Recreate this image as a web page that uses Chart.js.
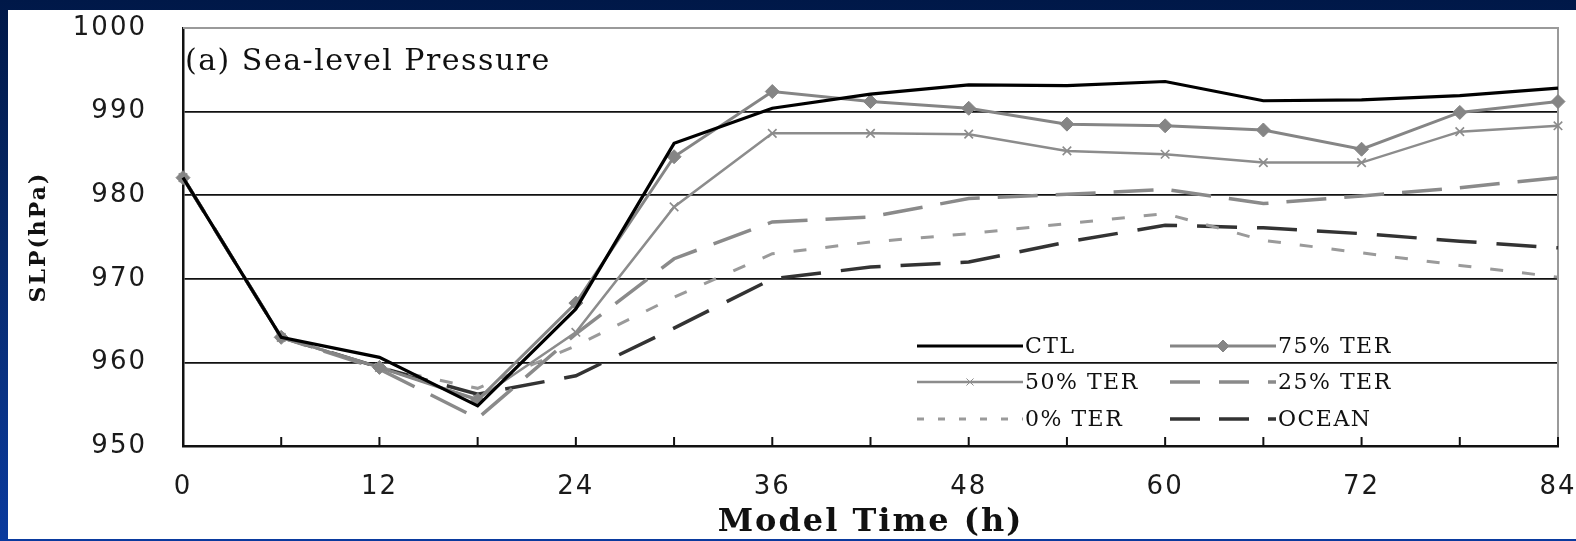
<!DOCTYPE html>
<html>
<head>
<meta charset="utf-8">
<script src="https://cdn.jsdelivr.net/npm/chart.js@4.4.1/dist/chart.umd.min.js"></script>
<style>
  html, body { margin: 0; padding: 0; }
  body {
    width: 1576px; height: 541px; overflow: hidden; position: relative;
    background: linear-gradient(to bottom, #001848 0%, #082a6a 45%, #0a3a9e 100%);
  }
  #panel { position: absolute; left: 8px; top: 10px; width: 1568px; height: 529px; background: #fff; }
  canvas { display: block; }
</style>
</head>
<body>
<div id="panel"><canvas id="slp" width="1568" height="529"></canvas></div>
<script>
// model time (h), one value every 6 hours
const hours = [0, 6, 12, 18, 24, 30, 36, 42, 48, 54, 60, 66, 72, 78, 84];
const labelHours = [0, 12, 24, 36, 48, 60, 72, 84];
const slpTicks = [950, 960, 970, 980, 990, 1000];

// sea-level pressure (hPa) per experiment
const ctl    = [982.1, 963.0, 960.6, 954.8, 966.4, 986.2, 990.4, 992.1, 993.2, 993.1, 993.6, 991.3, 991.4, 991.9, 992.8];
const ter75  = [982.1, 963.0, 959.4, 955.5, 967.1, 984.6, 992.4, 991.2, 990.4, 988.5, 988.3, 987.8, 985.5, 989.9, 991.2];
const ter50  = [982.1, 963.0, 959.4, 955.6, 963.6, 978.6, 987.4, 987.4, 987.3, 985.3, 984.9, 983.9, 983.9, 987.6, 988.3];
const ter25  = [982.1, 963.0, 959.2, 953.3, 963.4, 972.4, 976.8, 977.4, 979.6, 980.1, 980.7, 979.0, 979.9, 980.9, 982.1];
const ter0   = [982.1, 963.0, 959.4, 956.9, 962.0, 967.8, 973.0, 974.4, 975.4, 976.6, 977.8, 974.6, 973.1, 971.6, 970.2];
const ocean  = [982.1, 963.0, 959.4, 956.2, 958.4, 964.1, 970.0, 971.4, 972.0, 974.4, 976.4, 976.1, 975.4, 974.5, 973.7];

const series = [
  { label: 'CTL',     data: ctl,   color: '#000000', width: 3.2, dash: [],       legendDash: [] },
  { label: '75% TER', data: ter75, color: '#858585', width: 3,   dash: [],       legendDash: [], point: 'rectRot', radius: 7 },
  { label: '50% TER', data: ter50, color: '#8c8c8c', width: 2.5, dash: [],       legendDash: [], point: 'crossRot', radius: 6 },
  { label: '25% TER', data: ter25, color: '#8a8a8a', width: 3.5, dash: [40, 18], legendDash: [30, 19] },
  { label: '0% TER',  data: ter0,  color: '#9a9a9a', width: 3,   dash: [13, 19], legendDash: [7, 14] },
  { label: 'OCEAN',   data: ocean, color: '#333333', width: 3.5, dash: [40, 20], legendDash: [30, 19] }
];

const datasets = series.map(s => ({
  label: s.label,
  data: s.data,
  borderColor: s.color,
  backgroundColor: s.color,
  borderWidth: s.width,
  borderDash: s.dash,
  tension: 0,
  fill: false,
  clip: false,
  pointStyle: s.point || 'circle',
  pointRadius: s.point ? s.radius : 0,
  pointBackgroundColor: s.color,
  pointBorderColor: s.color,
  pointBorderWidth: s.point === 'crossRot' ? 1.6 : 1
}));

// legend slots: column start x, row y
const legendCols = [909, 1162];
const legendRows = [336, 372, 409];

const decorations = {
  id: 'decorations',
  beforeDraw(chart) {
    chart.ctx.letterSpacing = '2px';
  },
  beforeDatasetsDraw(chart) {
    const { ctx, chartArea: a, scales: { x } } = chart;
    ctx.save();
    // light frame on top and right
    ctx.strokeStyle = '#9a9a9a';
    ctx.lineWidth = 2;
    ctx.beginPath();
    ctx.moveTo(a.left, a.top);
    ctx.lineTo(a.right, a.top);
    ctx.lineTo(a.right, a.bottom);
    ctx.stroke();
    // short tick marks pointing up from the time axis
    ctx.strokeStyle = '#111';
    ctx.lineWidth = 2;
    x.ticks.forEach((t, i) => {
      const px = x.getPixelForTick(i);
      ctx.beginPath();
      ctx.moveTo(px, a.bottom);
      ctx.lineTo(px, a.bottom - 9);
      ctx.stroke();
    });
    ctx.restore();
  },
  afterDraw(chart) {
    const { ctx, chartArea: a } = chart;
    ctx.save();
    ctx.fillStyle = '#111';
    ctx.textBaseline = 'alphabetic';
    ctx.textAlign = 'left';
    ctx.letterSpacing = '1.5px';
    ctx.font = '30px "DejaVu Serif"';
    ctx.fillText('(a) Sea-level Pressure', a.left + 2, 60);

    // legend, two columns
    ctx.font = '22px "DejaVu Serif"';
    ctx.textBaseline = 'middle';
    series.forEach((s, i) => {
      const x0 = legendCols[i % 2];
      const y = legendRows[Math.floor(i / 2)];
      const x1 = x0 + 106;
      ctx.save();
      ctx.strokeStyle = s.color;
      ctx.lineWidth = s.width;
      ctx.setLineDash(s.legendDash);
      ctx.beginPath();
      ctx.moveTo(x0, y);
      ctx.lineTo(x1, y);
      ctx.stroke();
      ctx.restore();
      if (s.point) {
        ctx.save();
        ctx.fillStyle = s.color;
        ctx.strokeStyle = s.color;
        Chart.helpers.drawPoint(ctx, {
          pointStyle: s.point,
          radius: s.point === 'rectRot' ? 6 : 5,
          borderWidth: s.point === 'crossRot' ? 1.5 : 1,
          rotation: 0
        }, (x0 + x1) / 2, y);
        ctx.restore();
      }
      ctx.fillStyle = '#111';
      ctx.fillText(s.label, x1 + 2, y + 1);
    });
    ctx.restore();
  }
};

new Chart(document.getElementById('slp'), {
  type: 'line',
  data: { labels: hours, datasets: datasets },
  plugins: [decorations],
  options: {
    responsive: false,
    animation: false,
    events: [],
    layout: { padding: { left: 0, right: 18, top: 18, bottom: 0 } },
    plugins: { legend: { display: false }, tooltip: { enabled: false } },
    scales: {
      x: {
        type: 'category',
        offset: false,
        grid: { display: false, drawTicks: false },
        border: { display: true, color: '#111', width: 2.5 },
        ticks: {
          autoSkip: false,
          maxRotation: 0,
          padding: 26,
          color: '#1a1a1a',
          font: { family: 'DejaVu Sans', size: 26 },
          callback: function (value, index) {
            const h = hours[index];
            return labelHours.includes(h) ? String(h) : '';
          }
        },
        title: {
          display: true,
          text: 'Model Time (h)',
          color: '#111',
          font: { family: 'DejaVu Serif', size: 32, weight: 'bold', lineHeight: 1 },
          padding: { top: 0, bottom: 0 }
        },
        afterFit(scale) {
          scale.height = 93;
          scale.paddingLeft = 0;
          scale.paddingRight = 0;
        }
      },
      y: {
        min: slpTicks[0],
        max: slpTicks[slpTicks.length - 1],
        afterBuildTicks(scale) { scale.ticks = slpTicks.map(v => ({ value: v })); },
        grid: {
          drawTicks: false,
          lineWidth: 1.8,
          color: c => (c.tick && c.tick.value === 1000) ? '#9a9a9a' : '#111'
        },
        border: { display: true, color: '#111', width: 2.5 },
        ticks: {
          padding: 36,
          color: '#1a1a1a',
          font: { family: 'DejaVu Sans', size: 26 },
          callback: value => String(value)
        },
        title: {
          display: true,
          text: 'SLP(hPa)',
          color: '#111',
          font: { family: 'DejaVu Serif', size: 22, weight: 'bold' },
          padding: { top: 18, bottom: 0 }
        },
        afterFit(scale) {
          scale.width = 175;
          scale.paddingTop = 0;
          scale.paddingBottom = 0;
        }
      }
    }
  }
});
</script>
</body>
</html>
